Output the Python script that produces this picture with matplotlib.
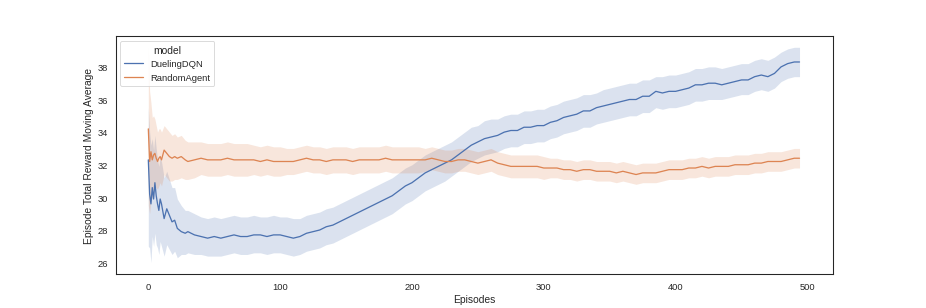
import matplotlib
matplotlib.use("Agg")
import matplotlib.pyplot as plt
import seaborn as sns

episodes = [0, 1, 2, 3, 4, 5, 6, 7, 8, 9, 10, 12, 14, 16, 18, 20, 22, 25, 28, 30,
            35, 40, 45, 50, 55, 60, 65, 70, 75, 80, 85, 90, 95, 100, 105, 110, 115, 120,
            125, 130, 135, 140, 145, 150, 155, 160, 165, 170, 175, 180, 185, 190, 195,
            200, 205, 210, 215, 220, 225, 230, 235, 240, 245, 250, 255, 260, 265, 270,
            275, 280, 285, 290, 295, 300, 305, 310, 315, 320, 325, 330, 335, 340, 345,
            350, 355, 360, 365, 370, 375, 380, 385, 390, 395, 400, 405, 410, 415, 420,
            425, 430, 435, 440, 445, 450, 455, 460, 465, 470, 475, 480, 485, 490, 494]

# DuelingDQN
dqn_mean = [32.3, 30.2, 29.6, 30.6, 29.9, 30.9, 30.1, 29.6, 29.2, 29.9, 29.6, 28.7, 29.3, 28.9,
            28.5, 28.6, 28.1, 27.9, 27.8, 27.9, 27.7, 27.6, 27.5, 27.6, 27.5, 27.6, 27.7, 27.6,
            27.6, 27.7, 27.7, 27.6, 27.7, 27.7, 27.6, 27.5, 27.6, 27.8, 27.9, 28.0, 28.2, 28.3,
            28.5, 28.7, 28.9, 29.1, 29.3, 29.5, 29.7, 29.9, 30.1, 30.4, 30.7, 30.9, 31.2, 31.5,
            31.7, 31.9, 32.1, 32.3, 32.6, 32.9, 33.2, 33.4, 33.6, 33.7, 33.8, 34.0, 34.1, 34.1,
            34.3, 34.3, 34.4, 34.4, 34.6, 34.7, 34.9, 35.0, 35.1, 35.3, 35.3, 35.5, 35.6, 35.7,
            35.8, 35.9, 36.0, 36.0, 36.2, 36.2, 36.5, 36.4, 36.5, 36.5, 36.6, 36.7, 36.9, 36.9,
            37.0, 37.0, 36.9, 37.0, 37.1, 37.2, 37.2, 37.4, 37.5, 37.4, 37.6, 38.0, 38.2, 38.3,
            38.3]
dqn_low = [27.0, 26.9, 26.0, 27.6, 27.0, 27.8, 27.1, 26.9, 26.5, 27.3, 27.0, 26.4, 27.1, 26.8,
           26.5, 26.7, 26.3, 26.5, 26.5, 26.6, 26.5, 26.5, 26.4, 26.4, 26.4, 26.5, 26.6, 26.5,
           26.5, 26.6, 26.6, 26.5, 26.6, 26.6, 26.5, 26.4, 26.5, 26.7, 26.8, 26.9, 27.1, 27.2,
           27.4, 27.6, 27.8, 28.0, 28.2, 28.4, 28.6, 28.8, 29.0, 29.3, 29.6, 29.8, 30.1, 30.4,
           30.6, 30.8, 31.0, 31.3, 31.6, 31.9, 32.2, 32.4, 32.6, 32.7, 32.8, 33.0, 33.1, 33.1,
           33.3, 33.3, 33.4, 33.4, 33.6, 33.7, 33.9, 34.0, 34.1, 34.3, 34.3, 34.5, 34.6, 34.7,
           34.8, 34.9, 35.0, 35.0, 35.2, 35.2, 35.5, 35.4, 35.5, 35.5, 35.6, 35.7, 35.9, 35.9,
           36.0, 36.0, 36.0, 36.1, 36.2, 36.3, 36.3, 36.5, 36.6, 36.5, 36.7, 37.1, 37.3, 37.4,
           37.4]
dqn_high = [35.5, 34.0, 33.2, 33.6, 32.9, 33.8, 33.0, 32.3, 31.9, 32.5, 32.2, 31.2, 31.6, 31.1,
            30.6, 30.6, 29.9, 29.5, 29.2, 29.2, 29.0, 28.8, 28.7, 28.8, 28.7, 28.8, 28.9, 28.8,
            28.8, 28.9, 28.8, 28.8, 28.9, 28.8, 28.8, 28.7, 28.7, 28.9, 29.0, 29.1, 29.3, 29.4,
            29.6, 29.8, 30.0, 30.2, 30.4, 30.6, 30.8, 31.0, 31.2, 31.5, 31.8, 32.0, 32.3, 32.6,
            32.8, 33.0, 33.2, 33.4, 33.7, 34.0, 34.3, 34.4, 34.7, 34.8, 34.8, 35.0, 35.1, 35.1,
            35.3, 35.3, 35.4, 35.4, 35.6, 35.7, 35.9, 36.0, 36.1, 36.3, 36.3, 36.4, 36.6, 36.7,
            36.8, 36.9, 37.0, 37.0, 37.2, 37.2, 37.4, 37.4, 37.5, 37.5, 37.6, 37.7, 37.9, 37.9,
            38.0, 38.0, 37.9, 38.0, 38.1, 38.2, 38.2, 38.4, 38.5, 38.4, 38.6, 38.9, 39.1, 39.2,
            39.2]

# RandomAgent
rnd_mean = [34.2, 32.2, 32.8, 32.3, 32.6, 32.7, 32.4, 32.2, 32.4, 32.5, 32.3, 32.9, 32.7, 32.5,
            32.4, 32.5, 32.4, 32.5, 32.3, 32.2, 32.3, 32.4, 32.3, 32.3, 32.3, 32.4, 32.3, 32.3,
            32.3, 32.3, 32.2, 32.3, 32.2, 32.2, 32.2, 32.2, 32.3, 32.4, 32.3, 32.3, 32.2, 32.3,
            32.3, 32.3, 32.2, 32.3, 32.3, 32.3, 32.3, 32.4, 32.3, 32.3, 32.3, 32.3, 32.3, 32.3,
            32.4, 32.3, 32.2, 32.2, 32.3, 32.3, 32.2, 32.1, 32.2, 32.3, 32.1, 32.0, 31.9, 31.9,
            31.9, 31.9, 31.9, 31.8, 31.8, 31.8, 31.7, 31.7, 31.6, 31.7, 31.7, 31.6, 31.6, 31.6,
            31.5, 31.6, 31.5, 31.4, 31.5, 31.5, 31.5, 31.6, 31.7, 31.7, 31.7, 31.8, 31.8, 31.9,
            31.8, 31.9, 31.9, 31.9, 32.0, 32.0, 32.0, 32.1, 32.1, 32.2, 32.2, 32.2, 32.3, 32.4,
            32.4]
rnd_low = [29.5, 29.0, 29.8, 30.0, 30.4, 30.7, 30.6, 30.5, 30.7, 30.9, 30.7, 31.4, 31.2, 31.0,
           31.0, 31.1, 31.1, 31.2, 31.1, 31.1, 31.2, 31.4, 31.3, 31.3, 31.3, 31.4, 31.3, 31.3,
           31.3, 31.4, 31.3, 31.4, 31.3, 31.3, 31.4, 31.4, 31.5, 31.6, 31.5, 31.5, 31.4, 31.5,
           31.5, 31.5, 31.4, 31.5, 31.5, 31.5, 31.5, 31.6, 31.5, 31.5, 31.5, 31.5, 31.5, 31.6,
           31.7, 31.6, 31.5, 31.5, 31.6, 31.6, 31.5, 31.4, 31.5, 31.6, 31.4, 31.3, 31.2, 31.2,
           31.2, 31.2, 31.2, 31.1, 31.2, 31.2, 31.1, 31.1, 31.0, 31.1, 31.1, 31.0, 31.0, 31.0,
           30.9, 31.0, 30.9, 30.8, 30.9, 30.9, 30.9, 31.0, 31.1, 31.1, 31.1, 31.2, 31.2, 31.3,
           31.2, 31.3, 31.3, 31.3, 31.4, 31.4, 31.4, 31.5, 31.5, 31.6, 31.6, 31.6, 31.7, 31.8,
           31.8]
rnd_high = [39.2, 36.5, 35.8, 34.9, 35.0, 34.8, 34.4, 34.0, 34.2, 34.2, 34.0, 34.4, 34.2, 34.0,
            33.8, 33.9, 33.7, 33.8, 33.5, 33.4, 33.4, 33.4, 33.3, 33.3, 33.3, 33.4, 33.3, 33.3,
            33.3, 33.2, 33.1, 33.2, 33.1, 33.1, 33.0, 33.0, 33.1, 33.2, 33.1, 33.1, 33.0, 33.1,
            33.1, 33.1, 33.0, 33.1, 33.1, 33.1, 33.1, 33.2, 33.1, 33.1, 33.1, 33.1, 33.1, 33.0,
            33.1, 33.0, 32.9, 32.9, 33.0, 33.0, 32.9, 32.8, 32.9, 33.0, 32.8, 32.7, 32.6, 32.6,
            32.6, 32.6, 32.6, 32.5, 32.4, 32.4, 32.3, 32.3, 32.2, 32.3, 32.3, 32.2, 32.2, 32.2,
            32.1, 32.2, 32.1, 32.0, 32.1, 32.1, 32.1, 32.2, 32.3, 32.3, 32.3, 32.4, 32.4, 32.5,
            32.4, 32.5, 32.5, 32.5, 32.6, 32.6, 32.6, 32.7, 32.7, 32.8, 32.8, 32.8, 32.9, 33.0,
            33.0]

sns.set_theme(style="white", context="notebook")
plt.rcParams['font.family'] = ['Liberation Sans', 'DejaVu Sans']

colors = sns.color_palette("deep")
fig, ax = plt.subplots(figsize=(15, 5), dpi=926 / 15)

# draw each model: mean line and confidence band
for name, mean, low, high, c in [("DuelingDQN", dqn_mean, dqn_low, dqn_high, colors[0]),
                                 ("RandomAgent", rnd_mean, rnd_low, rnd_high, colors[1])]:
    ax.plot(episodes, mean, color=c, lw=1.5, label=name)
    ax.fill_between(episodes, low, high, color=c, alpha=0.2, lw=0)

ax.set_xlim(-24.7, 519.7)
ax.set_ylim(25.3, 39.87)
ax.set_xticks([0, 100, 200, 300, 400, 500])
ax.set_yticks([26, 28, 30, 32, 34, 36, 38])
ax.set_xlabel("Episodes")
ax.set_ylabel("Episode Total Reward Moving Average")
for s in ax.spines.values():
    s.set_color("0.15")
ax.legend(title="model", loc="upper left")

fig.savefig("out.png", dpi=926 / 15)
